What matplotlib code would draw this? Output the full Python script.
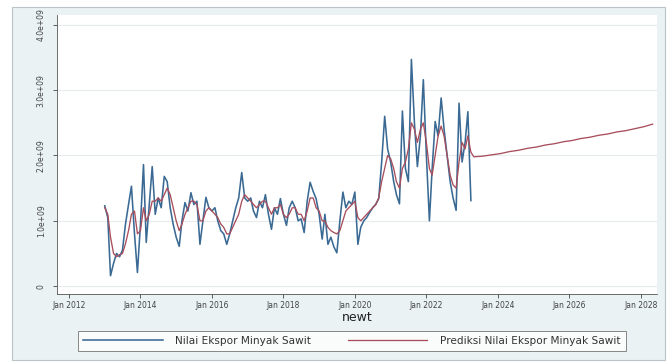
import matplotlib
matplotlib.use("Agg")
import matplotlib.pyplot as plt
import matplotlib.dates as mdates
from matplotlib.patches import Rectangle
import pandas as pd

# Actual monthly export value (units of 1e9), Jan 2013 - Apr 2023
actual = [
    1.23, 1.05, 0.16, 0.35, 0.50, 0.45, 0.55, 0.95, 1.25, 1.53, 0.80, 0.21,
    0.95, 1.86, 0.67, 1.25, 1.83, 1.10, 1.35, 1.20, 1.68, 1.60, 1.20, 0.95,
    0.75, 0.61, 1.00, 1.28, 1.15, 1.43, 1.25, 1.30, 0.64, 1.00, 1.36, 1.20,
    1.15, 1.20, 1.00, 0.85, 0.80, 0.64, 0.80, 1.00, 1.20, 1.35, 1.74, 1.35,
    1.30, 1.35, 1.15, 1.05, 1.30, 1.20, 1.40, 1.10, 0.87, 1.20, 1.10, 1.34,
    1.10, 0.93, 1.20, 1.30, 1.20, 1.00, 1.03, 0.82, 1.30, 1.59, 1.45, 1.34,
    1.10, 0.72, 1.10, 0.64, 0.75, 0.60, 0.51, 1.00, 1.44, 1.20, 1.30, 1.25,
    1.44, 0.64, 0.90, 1.00, 1.05, 1.13, 1.20, 1.25, 1.34, 1.90, 2.60, 2.10,
    1.90, 1.60, 1.40, 1.26, 2.68, 1.80, 1.60, 3.47, 2.50, 1.83, 2.30, 3.16,
    2.00, 1.00, 1.80, 2.52, 2.30, 2.88, 2.40, 2.00, 1.60, 1.35, 1.16, 2.80,
    1.90, 2.20, 2.67, 1.31,
]

# In-sample prediction, Jan 2013 - Apr 2023
fitted = [
    1.20, 1.10, 0.75, 0.50, 0.45, 0.48, 0.50, 0.65, 0.85, 1.10, 1.15, 0.80,
    0.85, 1.20, 1.00, 1.10, 1.30, 1.30, 1.35, 1.30, 1.40, 1.50, 1.40, 1.20,
    1.00, 0.85, 0.95, 1.10, 1.20, 1.30, 1.30, 1.25, 1.00, 1.00, 1.15, 1.20,
    1.15, 1.10, 1.05, 0.95, 0.90, 0.80, 0.80, 0.90, 1.00, 1.10, 1.30, 1.40,
    1.35, 1.30, 1.25, 1.20, 1.25, 1.30, 1.30, 1.20, 1.10, 1.20, 1.20, 1.25,
    1.10, 1.05, 1.10, 1.20, 1.20, 1.10, 1.10, 1.00, 1.15, 1.35, 1.35, 1.20,
    1.15, 1.00, 1.00, 0.90, 0.85, 0.82, 0.80, 0.85, 1.00, 1.15, 1.20, 1.25,
    1.30, 1.05, 1.00, 1.05, 1.10, 1.15, 1.20, 1.25, 1.35, 1.60, 1.80, 2.00,
    1.95, 1.80, 1.60, 1.50, 1.80, 1.90, 2.10, 2.50, 2.40, 2.20, 2.40, 2.50,
    2.20, 1.80, 1.70, 2.00, 2.30, 2.45, 2.30, 2.00, 1.70, 1.55, 1.50, 1.90,
    2.20, 2.10, 2.30, 2.05,
]

# Out-of-sample forecast, quarterly points May 2023 - May 2028
forecast = [
    1.98, 1.99, 2.01, 2.03, 2.06, 2.08, 2.11, 2.13, 2.16, 2.18, 2.21,
    2.23, 2.26, 2.28, 2.31, 2.33, 2.36, 2.38, 2.41, 2.44, 2.48,
]

y_ticks = [0, 1, 2, 3, 4]
y_tick_labels = ["0", "1.0e+09", "2.0e+09", "3.0e+09", "4.0e+09"]
x_tick_years = [2012, 2014, 2016, 2018, 2020, 2022, 2024, 2026, 2028]

dates = pd.date_range("2013-01-01", periods=len(actual), freq="MS")
f_dates = pd.date_range("2023-05-01", periods=len(forecast), freq="3MS")
pred_dates = list(dates) + list(f_dates)
pred_vals = fitted + forecast

W, H = 670, 364
fig = plt.figure(figsize=(W / 100, H / 100), dpi=100, facecolor="white")
bg = Rectangle((12 / W, 1 - 360 / H), 653 / W, 353 / H,
               transform=fig.transFigure, facecolor="#eaf2f3",
               edgecolor="#b8c4c8", lw=0.8, zorder=-10)
fig.add_artist(bg)

ax = fig.add_axes([57 / W, 1 - 294 / H, 600 / W, 279 / H])
ax.set_zorder(2)
ax.set_facecolor("white")

blue = "#3a6a94"
red = "#a84e5c"
ax.plot(dates, actual, color=blue, lw=1.15, label="Nilai Ekspor Minyak Sawit", zorder=3)
ax.plot(pred_dates, pred_vals, color=red, lw=0.95, label="Prediksi Nilai Ekspor Minyak Sawit", zorder=4)

ax.set_ylim(-0.12, 4.15)
ax.set_xlim(pd.Timestamp("2011-09-01"), pd.Timestamp("2028-06-15"))
ax.set_yticks(y_ticks)
ax.set_yticklabels(y_tick_labels, rotation=90, va="center", fontsize=5.5, color="#444444")
ax.set_xticks([pd.Timestamp(f"{y}-01-01") for y in x_tick_years])
ax.xaxis.set_major_formatter(mdates.DateFormatter("%b %Y"))
ax.tick_params(axis="x", labelsize=5.5, colors="#444444", length=3, width=0.6, pad=2)
ax.tick_params(axis="y", length=3, width=0.6, pad=5, colors="#444444")
ax.grid(axis="y", color="#e6ecee", lw=0.8)
ax.set_axisbelow(True)
for s in ["top", "right"]:
    ax.spines[s].set_visible(False)
for s in ["left", "bottom"]:
    ax.spines[s].set_color("#555555")
    ax.spines[s].set_linewidth(0.6)
ax.set_xlabel("newt", fontsize=9, color="#222222", labelpad=1)

leg = fig.legend(loc="center", ncol=2,
                 bbox_to_anchor=(352 / W, 1 - 341 / H),
                 fontsize=7.6, handlelength=7.5, handletextpad=1.2,
                 frameon=True, fancybox=False, borderpad=0.5,
                 borderaxespad=0, columnspacing=3.5)
leg.set_zorder(5)
leg.get_frame().set_edgecolor("#555555")
leg.get_frame().set_linewidth(0.6)
leg.get_frame().set_facecolor("white")
for t in leg.get_texts():
    t.set_color("#333333")

fig.savefig("out.png", dpi=100, facecolor="white")
